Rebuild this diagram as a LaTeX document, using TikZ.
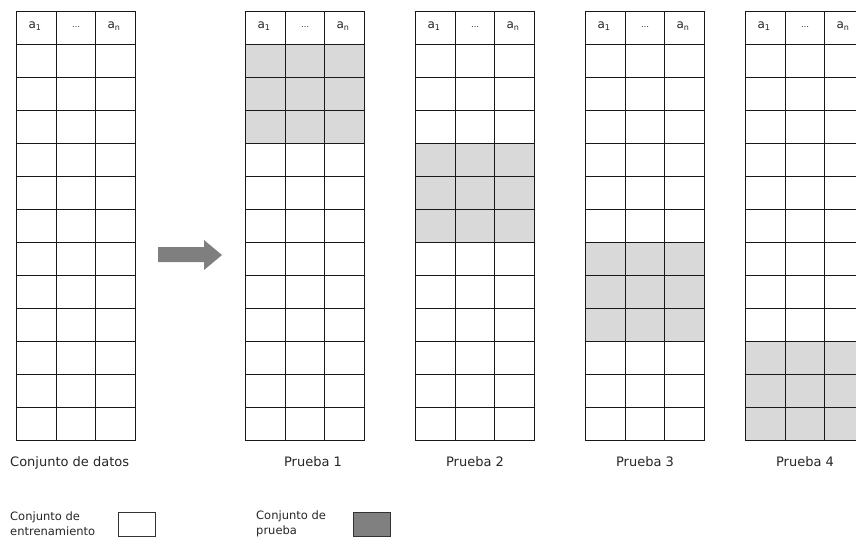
\documentclass[tikz,border=0pt]{standalone}
\usepackage{fontspec}
\setmainfont{DejaVu Sans}
\definecolor{cellgray}{HTML}{D9D9D9}
\definecolor{legdark}{HTML}{808080}
\definecolor{arrowgray}{HTML}{7F7F7F}
\definecolor{txt}{HTML}{262626}
\begin{document}
\begin{tikzpicture}[x=1pt,y=-1pt,
  gridline/.style={draw=black!90,line width=1pt},
  hdr/.style={font=\fontsize{12}{13}\selectfont,text=txt,inner sep=0pt},
  caption/.style={font=\fontsize{13}{15}\selectfont,text=txt,inner sep=0pt},
  legtext/.style={font=\fontsize{11.5}{15}\selectfont,text=txt,inner sep=0pt,align=left},
  legbox/.style={draw=black!80,line width=1pt}]
\useasboundingbox (0,0) rectangle (856,539);
\clip (0,0) rectangle (856,539);
% shaded test folds
\fill[cellgray] (245,44) rectangle (364,143);
\fill[cellgray] (415,143) rectangle (534,242);
\fill[cellgray] (585,242) rectangle (704,341);
\fill[cellgray] (745,341) rectangle (864,440);
% grids
\foreach \x [count=\i] in {16,245,415,585,745} {
  \draw[gridline] (\x,11) rectangle (\x+119,440);
  \draw[gridline] (\x+40,11) -- (\x+40,440);
  \draw[gridline] (\x+79,11) -- (\x+79,440);
  \foreach \k in {0,...,11} {
    \draw[gridline] (\x,44+33*\k) -- (\x+119,44+33*\k);
  }
  \node[hdr] (h\i a) at (\x+19,26) {a\textsubscript{1}};
  \node[hdr] (h\i b) at (\x+60,27) {\fontsize{8}{9}\selectfont …};
  \node[hdr] (h\i c) at (\x+98,26) {a\textsubscript{n}};
}
% arrow
\fill[arrowgray] (158,247) -- (204,247) -- (204,240) -- (222,255) -- (204,270) -- (204,262) -- (158,262) -- cycle;
% captions
\node[caption,anchor=west] (cap0) at (10,463) {Conjunto de datos};
\node[caption] (cap1) at (313,462) {Prueba 1};
\node[caption] (cap2) at (475,462) {Prueba 2};
\node[caption] (cap3) at (645,462) {Prueba 3};
\node[caption] (cap4) at (805,462) {Prueba 4};
% legend
\node[legtext,anchor=west] (leg1) at (10,524) {Conjunto de\\entrenamiento};
\draw[legbox,fill=white] (118,512) rectangle (155,536);
\node[legtext,anchor=west] (leg2) at (256,524) {Conjunto de\\prueba};
\draw[legbox,fill=legdark] (353,512) rectangle (390,536);
\end{tikzpicture}
\end{document}
